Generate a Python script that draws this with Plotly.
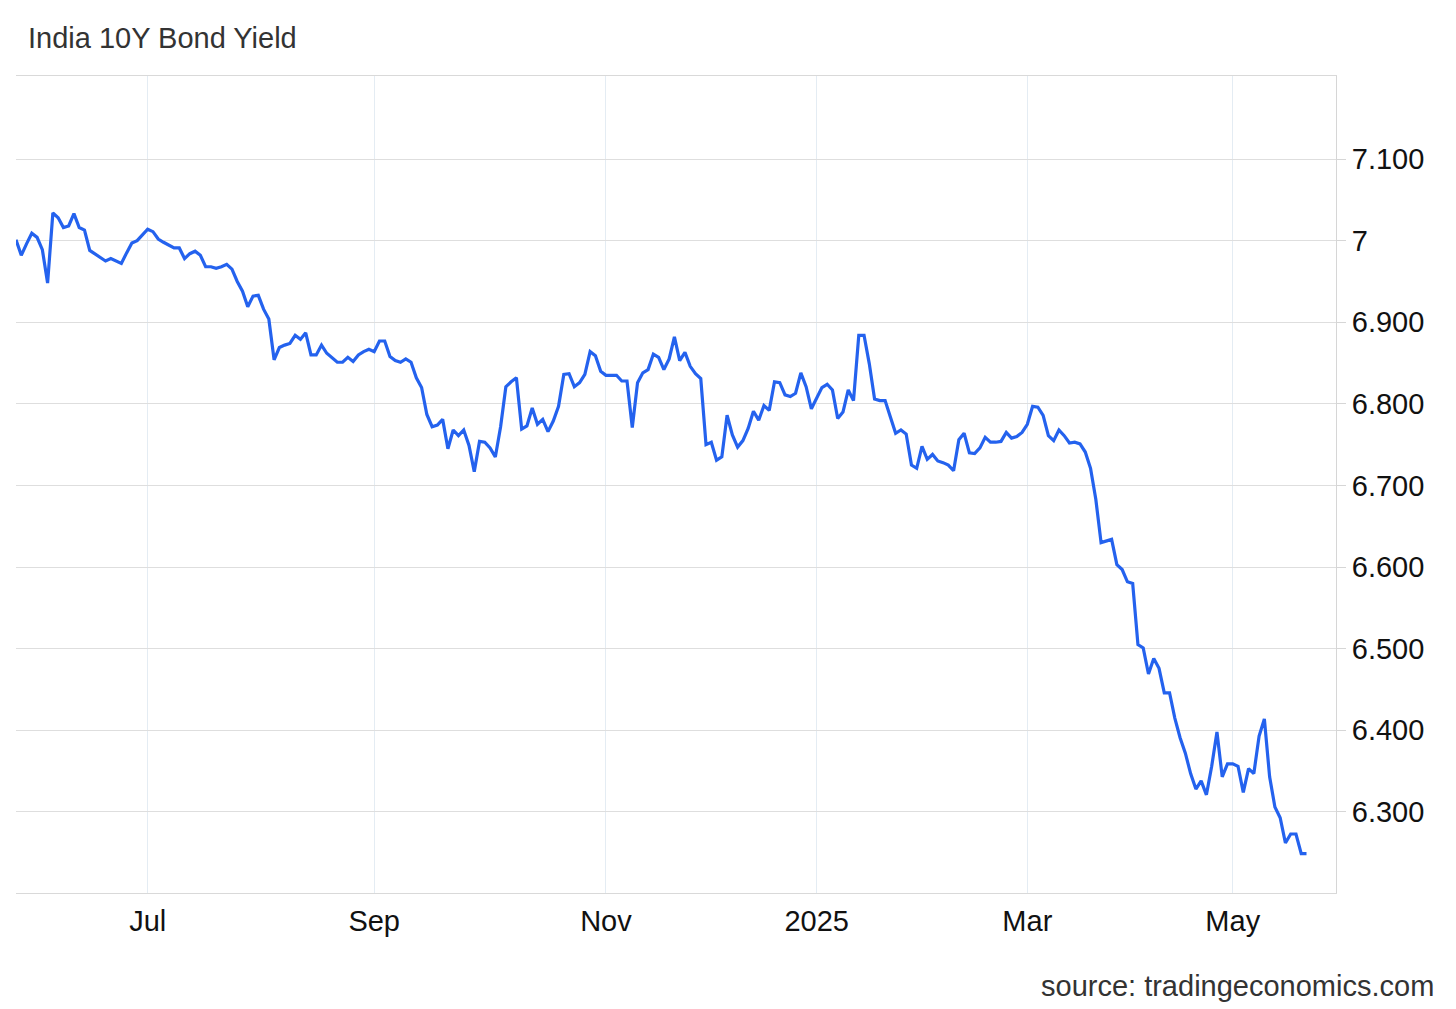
import plotly.graph_objects as go

# India 10Y bond yield, one value per trading day
yields = [
    7.001, 6.982, 6.996, 7.009, 7.004, 6.989, 6.948, 7.034, 7.028, 7.016,
    7.018, 7.033, 7.016, 7.013, 6.988, 6.984, 6.980, 6.975, 6.978, 6.975,
    6.972, 6.985, 6.997, 7.000, 7.007, 7.014, 7.011, 7.002, 6.998, 6.994,
    6.991, 6.991, 6.978, 6.984, 6.987, 6.982, 6.968, 6.968, 6.966, 6.968,
    6.971, 6.965, 6.950, 6.938, 6.919, 6.932, 6.933, 6.916, 6.904, 6.854,
    6.869, 6.872, 6.874, 6.884, 6.879, 6.887, 6.860, 6.860, 6.872, 6.862,
    6.856, 6.851, 6.851, 6.857, 6.852, 6.860, 6.864, 6.867, 6.864, 6.877,
    6.877, 6.858, 6.853, 6.851, 6.855, 6.851, 6.832, 6.820, 6.787, 6.772,
    6.774, 6.781, 6.745, 6.768, 6.761, 6.768, 6.749, 6.717, 6.754, 6.753,
    6.746, 6.735, 6.772, 6.821, 6.827, 6.832, 6.769, 6.773, 6.795, 6.775,
    6.781, 6.766, 6.779, 6.797, 6.836, 6.837, 6.821, 6.826, 6.836, 6.864,
    6.859, 6.840, 6.835, 6.835, 6.835, 6.828, 6.828, 6.771, 6.826, 6.838,
    6.842, 6.861, 6.857, 6.842, 6.855, 6.882, 6.853, 6.863, 6.846, 6.837,
    6.831, 6.750, 6.753, 6.731, 6.735, 6.786, 6.762, 6.747, 6.755, 6.770,
    6.791, 6.780, 6.798, 6.792, 6.827, 6.826, 6.811, 6.809, 6.813, 6.838,
    6.821, 6.794, 6.807, 6.820, 6.824, 6.817, 6.782, 6.790, 6.817, 6.804,
    6.884, 6.884, 6.849, 6.806, 6.804, 6.804, 6.784, 6.764, 6.768, 6.763,
    6.725, 6.721, 6.748, 6.732, 6.738, 6.730, 6.728, 6.725, 6.718, 6.756,
    6.764, 6.740, 6.739, 6.746, 6.759, 6.753, 6.753, 6.754, 6.765, 6.758,
    6.760, 6.765, 6.775, 6.797, 6.796, 6.786, 6.761, 6.755, 6.768, 6.761,
    6.752, 6.753, 6.751, 6.741, 6.721, 6.683, 6.630, 6.632, 6.634, 6.603,
    6.597, 6.582, 6.580, 6.505, 6.501, 6.469, 6.488, 6.476, 6.446, 6.446,
    6.415, 6.391, 6.372, 6.347, 6.328, 6.338, 6.321, 6.356, 6.398, 6.343,
    6.359, 6.359, 6.356, 6.324, 6.353, 6.347, 6.393, 6.414, 6.343, 6.306,
    6.293, 6.262, 6.273, 6.273, 6.249, 6.249,
]
trading_day = list(range(len(yields)))

# first trading day of the labelled months (trading-day index)
month_tick_index = [25, 68, 112, 152, 192, 231]
month_tick_label = ["Jul", "Sep", "Nov", "2025", "Mar", "May"]

y_tick_values = [6.3, 6.4, 6.5, 6.6, 6.7, 6.8, 6.9, 7.0, 7.1]
y_tick_labels = ["6.300", "6.400", "6.500", "6.600", "6.700", "6.800",
                 "6.900", "7", "7.100"]

FONT = "Liberation Sans, Arial, sans-serif"
W, H = 1456, 1009
ML, MR, MT, MB = 8, 128, 68, 124
PW, PH = W - ML - MR, H - MT - MB

fig = go.Figure()
fig.add_trace(go.Scatter(
    x=trading_day, y=yields, mode="lines",
    line=dict(color="#2462EE", width=3.2),
    hoverinfo="skip", showlegend=False,
))

fig.update_layout(
    width=W, height=H,
    margin=dict(l=ML, r=MR, t=MT, b=MB),
    paper_bgcolor="white", plot_bgcolor="white",
    font=dict(family=FONT, size=29, color="#111111"),
    title=dict(text="India 10Y Bond Yield", x=20 / W, xanchor="left",
               xref="container", y=1 - 30 / H, yanchor="middle",
               font=dict(family=FONT, size=29, color="#333333")),
    annotations=[dict(
        text="source: tradingeconomics.com", xref="paper", yref="paper",
        x=(1428 - ML) / PW, xanchor="right",
        y=-(978 - (MT + PH)) / PH, yanchor="middle", showarrow=False,
        font=dict(family=FONT, size=29, color="#333333"),
    )],
)

fig.update_xaxes(
    range=[0, 250.6],
    tickmode="array", tickvals=month_tick_index, ticktext=month_tick_label,
    showgrid=True, gridcolor="#e4ecf3", gridwidth=1,
    showline=True, linecolor="#d9d9d9", linewidth=1, mirror=True,
    ticks="", ticklabelstandoff=2, zeroline=False,
    tickfont=dict(family=FONT, size=29, color="#111111"),
)
fig.update_yaxes(
    side="right", range=[6.2007, 7.2017],
    tickmode="array", tickvals=y_tick_values, ticktext=y_tick_labels,
    showgrid=True, gridcolor="#dedede", gridwidth=1,
    showline=True, linecolor="#d6d6d6", linewidth=1,
    ticks="outside", ticklen=9, tickcolor="#d6d6d6", tickwidth=1,
    zeroline=False,
    tickfont=dict(family=FONT, size=29, color="#111111"),
)

fig.write_html("out.html")
